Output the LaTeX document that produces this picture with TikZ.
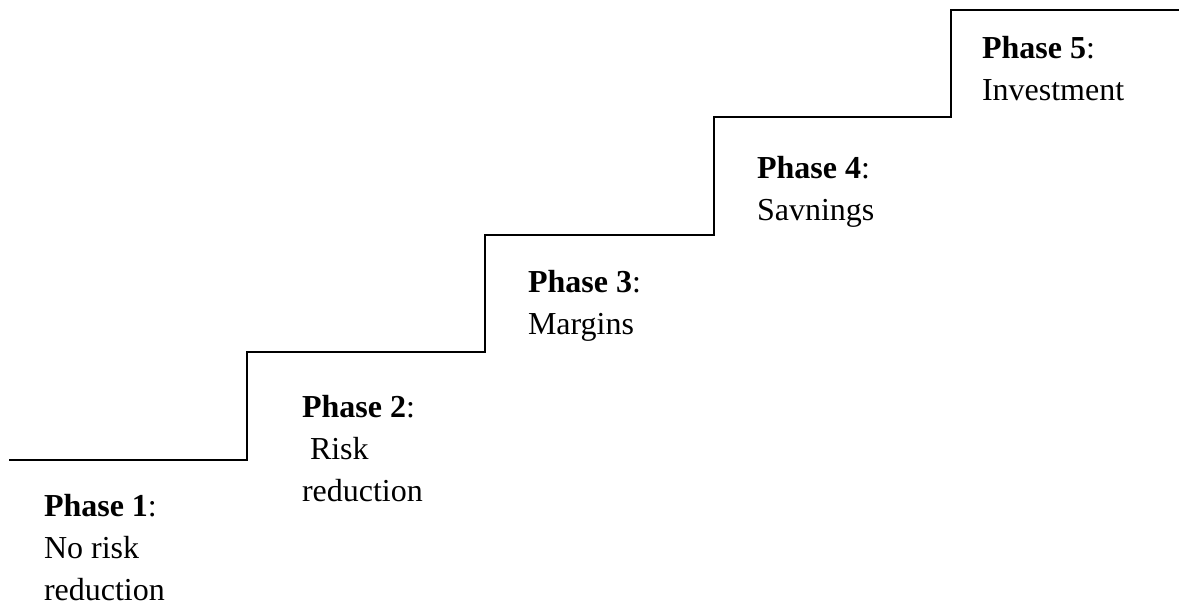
\documentclass[tikz,border=0pt]{standalone}
\usepackage{fontspec}
\setmainfont{Liberation Serif}
\begin{document}
\begin{tikzpicture}[x=1pt,y=-1pt,
  phase/.style={anchor=base west,inner sep=0pt,outer sep=0pt,font=\fontsize{32}{42}\selectfont},
  stairs/.style={line width=1.8pt,line join=miter,black}]
\useasboundingbox (0,0) rectangle (1179,606);
\coordinate (s0) at (9,460);
\coordinate (s1) at (247,460);
\coordinate (s2) at (247,352);
\coordinate (s3) at (485,352);
\coordinate (s4) at (485,235);
\coordinate (s5) at (714,235);
\coordinate (s6) at (714,117);
\coordinate (s7) at (951,117);
\coordinate (s8) at (951,10);
\coordinate (s9) at (1179,10);
\draw[stairs] (s0) -- (s1) -- (s2) -- (s3) -- (s4) -- (s5) -- (s6) -- (s7) -- (s8) -- (s9);
\node[phase] (p1) at (44,516) {\vtop{\hbox{\textbf{Phase 1}:}\hbox{No risk}\hbox{reduction}}};
\node[phase] (p2) at (302,417) {\vtop{\hbox{\textbf{Phase 2}:}\hbox{\ Risk}\hbox{reduction}}};
\node[phase] (p3) at (528,292) {\vtop{\hbox{\textbf{Phase 3}:}\hbox{Margins}}};
\node[phase] (p4) at (757,178) {\vtop{\hbox{\textbf{Phase 4}:}\hbox{Savnings}}};
\node[phase] (p5) at (982,58) {\vtop{\hbox{\textbf{Phase 5}:}\hbox{Investment}}};
\end{tikzpicture}
\end{document}
